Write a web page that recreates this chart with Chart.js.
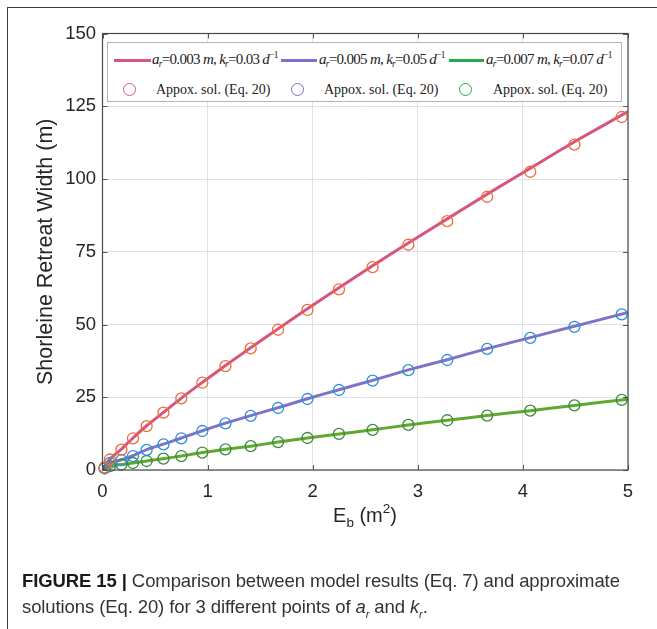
<!DOCTYPE html>
<html>
<head>
<meta charset="utf-8">
<script src="https://cdn.jsdelivr.net/npm/chart.js@4"></script>
<style>
  html,body{margin:0;padding:0;background:#fff;width:657px;height:629px;overflow:hidden;}
  #frame{position:absolute;left:7px;top:7px;width:700px;height:700px;border-left:1.5px solid #3c3c3c;border-top:1.5px solid #3c3c3c;}
  #c{position:absolute;left:0;top:0;}
  #legend{position:absolute;left:107px;top:42px;width:513px;height:58px;border:1.5px solid #b4b4b4;background:#fff;font-family:"Liberation Serif","DejaVu Serif",serif;color:#222;}
  #legend .ln{position:absolute;height:3px;}
  #legend .tx{position:absolute;white-space:nowrap;font-size:14px;line-height:16px;}
  #legend .ci{position:absolute;width:11px;height:11px;border-radius:50%;border:1.6px solid;box-sizing:content-box;}
  #legend i{font-style:italic;}
  #legend sub{font-size:9.5px;vertical-align:-3px;line-height:0;}
  #legend sup{font-size:9.5px;vertical-align:6px;line-height:0;}
  #xtitle{position:absolute;left:0;width:730px;top:504px;text-align:center;font-family:"Liberation Sans",Arial,sans-serif;font-size:20px;color:#262626;}
  #xtitle sub,#xtitle sup{font-size:13.5px;line-height:0;}
  #xtitle sub{vertical-align:-5px;}
  #xtitle sup{vertical-align:9px;}
  #caption{position:absolute;left:22px;top:568px;width:635px;font-family:"Liberation Sans",Arial,sans-serif;font-size:18.5px;line-height:25.5px;color:#333;letter-spacing:-0.1px;}
  #caption b{color:#1a1a1a;}
</style>
</head>
<body>
<div id="frame"></div>
<canvas id="c" width="657" height="629"></canvas>
<div id="legend"></div>
<div id="xtitle">E<sub>b</sub> (m<sup>2</sup>)</div>
<div id="caption"><b>FIGURE 15 |</b> Comparison between model results (Eq. 7) and approximate<br>solutions (Eq. 20) for 3 different points of <i>a<sub style="font-size:11px">r</sub></i> and <i>k<sub style="font-size:11px">r</sub></i>.</div>
<script>
// ---- data ----
const markerX = [0.02, 0.07, 0.18, 0.29, 0.42, 0.58, 0.75, 0.95, 1.17, 1.41, 1.67, 1.95, 2.25, 2.57, 2.91, 3.28, 3.66, 4.07, 4.49, 4.94];
const approxRed   = [0.9, 3.6, 7.0, 10.9, 15.1, 19.7, 24.6, 30.0, 35.7, 41.8, 48.2, 55.0, 62.1, 69.7, 77.4, 85.5, 93.9, 102.5, 111.8, 121.3];
const approxBlue  = [0.6, 2.4, 3.4, 4.8, 6.9, 8.8, 10.9, 13.4, 16.0, 18.6, 21.3, 24.4, 27.5, 30.7, 34.3, 37.8, 41.6, 45.4, 49.2, 53.5];
const approxGreen = [0.6, 1.3, 1.9, 2.4, 3.1, 3.9, 4.8, 6.0, 7.1, 8.2, 9.6, 11.0, 12.4, 13.8, 15.5, 17.1, 18.7, 20.4, 22.2, 24.1];

const modelX     = [0, 0.07, 0.18, 0.29, 0.42, 0.58, 0.75, 0.95, 1.17, 1.41, 1.67, 1.95, 2.25, 2.57, 2.91, 3.28, 3.66, 4.07, 4.49, 5.0];
const modelRed   = [0, 3.7, 7.2, 11.0, 15.2, 19.8, 24.7, 30.1, 35.9, 42.0, 48.5, 55.4, 62.6, 70.2, 78.0, 86.3, 94.8, 103.7, 112.8, 123.2];
const modelBlue  = [0, 2.4, 3.5, 4.9, 7.0, 8.9, 11.0, 13.5, 16.1, 18.7, 21.4, 24.5, 27.6, 30.8, 34.4, 37.9, 41.7, 45.5, 49.4, 54.1];
const modelGreen = [0, 1.3, 1.9, 2.4, 3.1, 3.9, 4.8, 6.0, 7.1, 8.2, 9.6, 11.0, 12.4, 13.8, 15.5, 17.1, 18.7, 20.4, 22.2, 24.3];

const xTicks = [0, 1, 2, 3, 4, 5];
const yTicks = [0, 25, 50, 75, 100, 125, 150];

const modelLabels = [
  ['0.003', '0.03'],
  ['0.005', '0.05'],
  ['0.007', '0.07']
];
const approxLabel = 'Appox. sol. (Eq. 20)';
const yTitle = 'Shorleine Retreat Width (m)';

// ---- styles ----
const lineColors   = ['#d8557b', '#7d74c9', '#5fa92f'];
const legendLineColors = ['#d8557b', '#7d74c9', '#1fae48'];
const markerColors = ['#ef6b3a', '#2d8fd8', '#3b8a3c'];
const legendCircleColors = ['#d9587e', '#7a72c8', '#1fae48'];

function pts(xs, ys){ return xs.map((x,i)=>({x:x, y:ys[i]})); }

const modelSeries = [modelRed, modelBlue, modelGreen];
const approxSeries = [approxRed, approxBlue, approxGreen];
const datasets = [];
approxSeries.forEach((s,i)=>datasets.push({
  type:'scatter', data:pts(markerX, s), showLine:false,
  pointRadius:5.5, pointHoverRadius:5.5, pointBorderWidth:1.3,
  pointBackgroundColor:'rgba(0,0,0,0)', pointBorderColor:markerColors[i],
  order:0, clip:false
}));
modelSeries.forEach((s,i)=>datasets.push({
  type:'line', data:pts(modelX, s), borderColor:lineColors[i], borderWidth:3,
  pointRadius:0, tension:0.2, fill:false, order:1
}));

const boxPlugin = {
  id:'boxPlugin',
  afterDatasetsDraw(chart){
    const {ctx, chartArea:a, scales:{x, y}} = chart;
    ctx.save();
    ctx.strokeStyle = '#555';
    ctx.lineWidth = 1;
    ctx.beginPath();
    xTicks.forEach(v=>{
      const px = Math.round(x.getPixelForValue(v))+0.5;
      ctx.moveTo(px, a.bottom); ctx.lineTo(px, a.bottom-5);
      ctx.moveTo(px, a.top); ctx.lineTo(px, a.top+5);
    });
    yTicks.forEach(v=>{
      const py = Math.round(y.getPixelForValue(v))+0.5;
      ctx.moveTo(a.left, py); ctx.lineTo(a.left+5, py);
      ctx.moveTo(a.right, py); ctx.lineTo(a.right-5, py);
    });
    ctx.stroke();
    ctx.strokeStyle = '#4a4a4a';
    ctx.lineWidth = 1.2;
    ctx.strokeRect(a.left, a.top, a.right-a.left, a.bottom-a.top);
    ctx.restore();
  }
};

new Chart(document.getElementById('c'), {
  data:{datasets},
  options:{
    responsive:false, animation:false,
    layout:{padding:{left:0, top:33.5, right:29, bottom:119}},
    plugins:{legend:{display:false}, tooltip:{enabled:false}},
    scales:{
      x:{type:'linear', min:0, max:5,
        afterFit(s){ s.height = 40; },
        afterBuildTicks(s){ s.ticks = xTicks.map(v=>({value:v})); },
        grid:{color:'#e2e2e2', drawTicks:false, lineWidth:1},
        border:{display:false},
        ticks:{padding:11, color:'#262626', font:{family:'"Liberation Sans", Arial, sans-serif', size:18.5}, maxRotation:0}
      },
      y:{type:'linear', min:0, max:150,
        afterFit(s){ s.width = 102.5; },
        afterBuildTicks(s){ s.ticks = yTicks.map(v=>({value:v})); },
        grid:{color:'#e2e2e2', drawTicks:false, lineWidth:1},
        border:{display:false},
        ticks:{padding:6.5, color:'#262626', font:{family:'"Liberation Sans", Arial, sans-serif', size:18.5}},
        title:{display:true, text:yTitle, color:'#262626', padding:{top:33, bottom:0},
          font:{family:'"Liberation Sans", Arial, sans-serif', size:21.5}}
      }
    }
  },
  plugins:[boxPlugin]
});

// ---- legend (HTML, built from the label arrays) ----
const leg = document.getElementById('legend');
const L0 = 107, T0 = 42;
const lineStarts = [113, 280, 448];
const lineEnds   = [150, 316, 483];
const textStarts = [151, 318, 485];
const circleCx   = [129, 297, 465];
const apxStarts  = [155, 323, 492];
modelLabels.forEach((lab,i)=>{
  const ln = document.createElement('div');
  ln.className='ln';
  ln.style.left=(lineStarts[i]-L0)+'px'; ln.style.top=(58-T0)+'px';
  ln.style.width=(lineEnds[i]-lineStarts[i])+'px'; ln.style.background=legendLineColors[i];
  leg.appendChild(ln);
  const tx = document.createElement('div');
  tx.className='tx';
  tx.style.left=(textStarts[i]-L0)+'px'; tx.style.top=(50-T0)+'px';
  tx.style.fontSize='15px';
  tx.style.letterSpacing='-0.7px';
  tx.innerHTML = '<i>a</i><sub><i>r</i></sub>=' + lab[0] + ' <i>m</i>, <i>k</i><sub><i>r</i></sub>=' + lab[1] + ' <i>d</i><sup>\u22121</sup>';
  leg.appendChild(tx);
  const ci = document.createElement('div');
  ci.className='ci';
  ci.style.left=(circleCx[i]-L0-7)+'px'; ci.style.top=(89-T0-7)+'px';
  ci.style.borderColor=legendCircleColors[i];
  leg.appendChild(ci);
  const at = document.createElement('div');
  at.className='tx';
  at.style.left=(apxStarts[i]-L0)+'px'; at.style.top=(81-T0)+'px';
  at.textContent = approxLabel;
  leg.appendChild(at);
});
</script>
</body>
</html>
